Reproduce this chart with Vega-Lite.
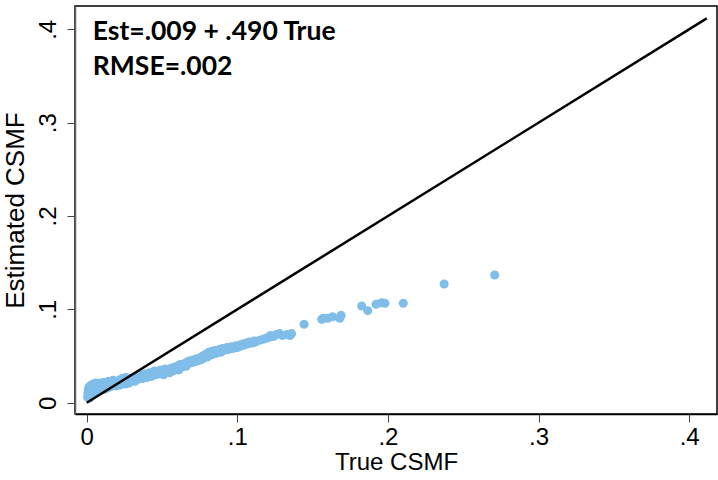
{
  "$schema": "https://vega.github.io/schema/vega-lite/v6.json",
  "width": 642,
  "height": 408,
  "autosize": {"type": "none"},
  "padding": {"left": 75, "top": 6, "right": 1, "bottom": 66},
  "background": "white",
  "config": {
    "view": {"stroke": "#000000", "strokeWidth": 1.5, "fill": "white"},
    "font": "Liberation Sans"
  },
  "datasets": {
    "pts": [
      {"true":0.0005,"est":0.006},{"true":0.0008,"est":0.010},{"true":0.001,"est":0.014},{"true":0.0012,"est":0.007},{"true":0.0015,"est":0.017},
      {"true":0.002,"est":0.011},{"true":0.002,"est":0.005},{"true":0.0025,"est":0.015},{"true":0.003,"est":0.008},{"true":0.003,"est":0.019},
      {"true":0.0035,"est":0.012},{"true":0.004,"est":0.016},{"true":0.004,"est":0.009},{"true":0.0045,"est":0.020},{"true":0.005,"est":0.013},
      {"true":0.005,"est":0.010},{"true":0.0055,"est":0.017},{"true":0.006,"est":0.011},{"true":0.006,"est":0.021},{"true":0.0065,"est":0.014},
      {"true":0.007,"est":0.012},{"true":0.007,"est":0.018},{"true":0.0075,"est":0.015},{"true":0.008,"est":0.013},{"true":0.008,"est":0.020},
      {"true":0.0085,"est":0.016},{"true":0.009,"est":0.014},{"true":0.009,"est":0.021},{"true":0.0095,"est":0.018},{"true":0.010,"est":0.015},
      {"true":0.0105,"est":0.020},{"true":0.011,"est":0.014},{"true":0.0115,"est":0.022},{"true":0.012,"est":0.017},{"true":0.0125,"est":0.015},
      {"true":0.013,"est":0.021},{"true":0.0135,"est":0.018},{"true":0.014,"est":0.016},{"true":0.0145,"est":0.023},{"true":0.015,"est":0.019},
      {"true":0.0155,"est":0.017},{"true":0.016,"est":0.022},{"true":0.0165,"est":0.020},{"true":0.017,"est":0.018},{"true":0.0175,"est":0.024},
      {"true":0.018,"est":0.021},{"true":0.0185,"est":0.019},{"true":0.019,"est":0.023},{"true":0.0195,"est":0.018},{"true":0.020,"est":0.022},
      {"true":0.021,"est":0.020},{"true":0.0215,"est":0.024},{"true":0.022,"est":0.019},{"true":0.023,"est":0.022},{"true":0.0235,"est":0.026},
      {"true":0.024,"est":0.021},{"true":0.025,"est":0.024},{"true":0.0255,"est":0.020},{"true":0.026,"est":0.027},{"true":0.027,"est":0.023},
      {"true":0.0275,"est":0.025},{"true":0.028,"est":0.021},{"true":0.029,"est":0.026},{"true":0.030,"est":0.024},
      {"true":0.031,"est":0.027},{"true":0.032,"est":0.023},{"true":0.033,"est":0.029},{"true":0.034,"est":0.025},{"true":0.035,"est":0.027},
      {"true":0.036,"est":0.030},{"true":0.037,"est":0.026},{"true":0.038,"est":0.028},{"true":0.039,"est":0.031},{"true":0.040,"est":0.027},
      {"true":0.041,"est":0.029},{"true":0.042,"est":0.032},{"true":0.043,"est":0.028},{"true":0.044,"est":0.031},{"true":0.045,"est":0.034},
      {"true":0.046,"est":0.030},{"true":0.047,"est":0.033},{"true":0.048,"est":0.031},{"true":0.049,"est":0.035},{"true":0.050,"est":0.032},
      {"true":0.051,"est":0.030},{"true":0.052,"est":0.036},{"true":0.053,"est":0.033},{"true":0.054,"est":0.035},{"true":0.055,"est":0.032},
      {"true":0.056,"est":0.037},{"true":0.057,"est":0.034},{"true":0.058,"est":0.038},{"true":0.059,"est":0.036},{"true":0.060,"est":0.039},
      {"true":0.061,"est":0.035},{"true":0.062,"est":0.041},
      {"true":0.063,"est":0.038},{"true":0.064,"est":0.040},{"true":0.065,"est":0.042},{"true":0.066,"est":0.039},{"true":0.067,"est":0.044},
      {"true":0.068,"est":0.042},{"true":0.069,"est":0.045},{"true":0.070,"est":0.043},{"true":0.071,"est":0.046},{"true":0.072,"est":0.044},
      {"true":0.073,"est":0.047},
      {"true":0.074,"est":0.045},{"true":0.075,"est":0.048},{"true":0.076,"est":0.046},{"true":0.077,"est":0.050},{"true":0.078,"est":0.048},
      {"true":0.079,"est":0.052},{"true":0.080,"est":0.049},{"true":0.081,"est":0.054},{"true":0.082,"est":0.051},{"true":0.083,"est":0.055},
      {"true":0.084,"est":0.052},{"true":0.085,"est":0.056},{"true":0.086,"est":0.053},
      {"true":0.087,"est":0.055},{"true":0.088,"est":0.057},{"true":0.089,"est":0.054},{"true":0.090,"est":0.058},{"true":0.091,"est":0.056},
      {"true":0.092,"est":0.057},{"true":0.093,"est":0.059},{"true":0.094,"est":0.057},{"true":0.095,"est":0.058},{"true":0.096,"est":0.060},
      {"true":0.097,"est":0.058},{"true":0.098,"est":0.059},{"true":0.099,"est":0.061},{"true":0.100,"est":0.059},{"true":0.101,"est":0.060},
      {"true":0.102,"est":0.062},
      {"true":0.103,"est":0.061},{"true":0.104,"est":0.063},{"true":0.105,"est":0.062},{"true":0.106,"est":0.064},{"true":0.107,"est":0.063},
      {"true":0.108,"est":0.065},{"true":0.110,"est":0.064},{"true":0.111,"est":0.066},{"true":0.112,"est":0.065},{"true":0.113,"est":0.066},
      {"true":0.115,"est":0.067},{"true":0.117,"est":0.068},{"true":0.119,"est":0.069},{"true":0.121,"est":0.070},{"true":0.122,"est":0.072},
      {"true":0.124,"est":0.071},{"true":0.126,"est":0.073},{"true":0.128,"est":0.074},{"true":0.130,"est":0.072},{"true":0.133,"est":0.073},
      {"true":0.135,"est":0.072},{"true":0.136,"est":0.074},
      {"true":0.1443,"est":0.084},{"true":0.156,"est":0.0893},{"true":0.157,"est":0.0904},{"true":0.160,"est":0.0904},{"true":0.1633,"est":0.0921},
      {"true":0.1689,"est":0.0936},{"true":0.168,"est":0.0904},{"true":0.1826,"est":0.1036},{"true":0.1866,"est":0.0986},{"true":0.1921,"est":0.1054},
      {"true":0.1959,"est":0.1071},{"true":0.198,"est":0.1065},{"true":0.2102,"est":0.1065},{"true":0.2373,"est":0.1272},{"true":0.2709,"est":0.1368}
    ]
  },
  "layer": [
    {
      "data": {"name": "pts"},
      "mark": {"type": "circle", "size": 82, "color": "#80bde8", "opacity": 1},
      "encoding": {
        "x": {
          "field": "true", "type": "quantitative",
          "scale": {"domain": [-0.0078, 0.4185], "nice": false, "zero": false},
          "axis": {
            "values": [0, 0.1, 0.2, 0.3, 0.4],
            "labelExpr": "datum.value == 0 ? '0' : substring(format(datum.value, '.1f'), 1)",
            "title": "True CSMF",
            "titleFontSize": 24, "titleFontWeight": "normal", "titleColor": "#000000",
            "titlePadding": 1,
            "labelFontSize": 24, "labelColor": "#000000", "labelPadding": 3,
            "tickSize": 8, "tickColor": "#444444", "tickWidth": 1,
            "domainColor": "#000000", "domainWidth": 1.5,
            "grid": false, "labelFlush": false
          }
        },
        "y": {
          "field": "est", "type": "quantitative",
          "scale": {"domain": [-0.0121, 0.425], "nice": false, "zero": false},
          "axis": {
            "values": [0, 0.1, 0.2, 0.3, 0.4],
            "labelExpr": "datum.value == 0 ? '0' : substring(format(datum.value, '.1f'), 1)",
            "title": "Estimated CSMF",
            "titleFontSize": 26, "titleFontWeight": "normal", "titleColor": "#000000",
            "titlePadding": 8,
            "labelFontSize": 24, "labelColor": "#000000",
            "labelAngle": 270, "labelAlign": "center", "labelBaseline": "alphabetic",
            "labelPadding": 12,
            "tickSize": 8, "tickColor": "#444444", "tickWidth": 1,
            "domainColor": "#666666", "domainWidth": 1.5,
            "grid": false, "labelFlush": false
          }
        }
      }
    },
    {
      "data": {"values": [{"true": 0, "est": 0}, {"true": 0.4117, "est": 0.4117}]},
      "mark": {"type": "line", "color": "#000000", "strokeWidth": 2.5},
      "encoding": {
        "x": {"field": "true", "type": "quantitative"},
        "y": {"field": "est", "type": "quantitative"}
      }
    },
    {
      "data": {"values": [{"label": "Est=.009 + .490 True"}]},
      "mark": {"type": "text", "align": "left", "baseline": "alphabetic", "font": "Lato", "fontWeight": "bold", "fontSize": 26.5, "color": "#000000"},
      "encoding": {
        "x": {"datum": 0.004, "type": "quantitative"},
        "y": {"datum": 0.3885, "type": "quantitative"},
        "text": {"field": "label"}
      }
    },
    {
      "data": {"values": [{"label": "RMSE=.002"}]},
      "mark": {"type": "text", "align": "left", "baseline": "alphabetic", "font": "Lato", "fontWeight": "bold", "fontSize": 26.5, "color": "#000000"},
      "encoding": {
        "x": {"datum": 0.004, "type": "quantitative"},
        "y": {"datum": 0.351, "type": "quantitative"},
        "text": {"field": "label"}
      }
    }
  ]
}
